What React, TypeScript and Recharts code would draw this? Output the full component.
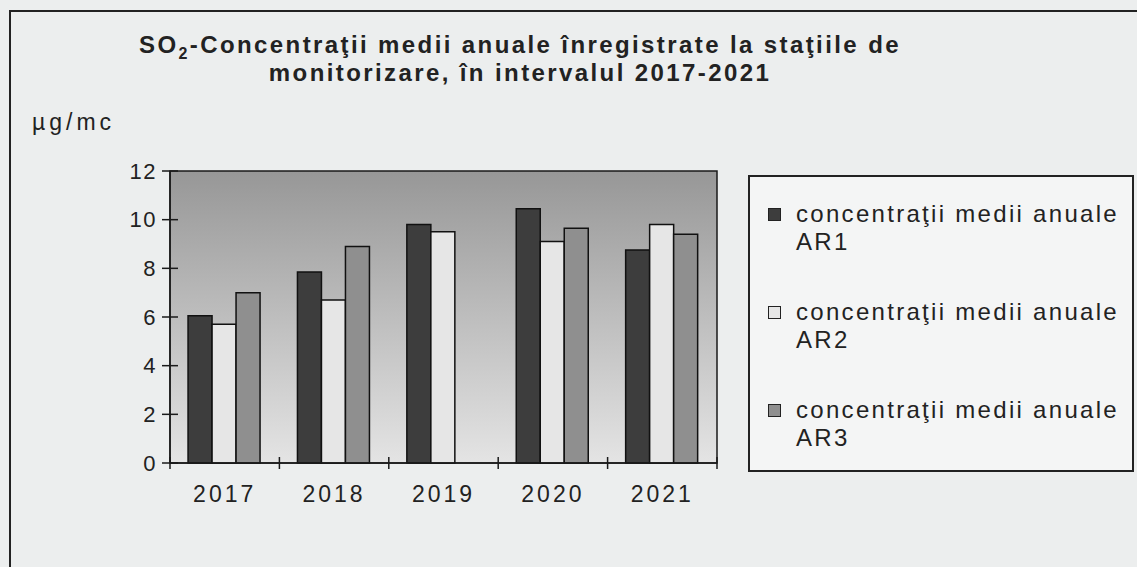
import React from 'react';
import { BarChart, Bar, XAxis, YAxis, CartesianGrid, ReferenceArea, Legend } from 'recharts';

const years = ['2017', '2018', '2019', '2020', '2021'];
const ar1 = [6.05, 7.85, 9.8, 10.45, 8.75];
const ar2 = [5.7, 6.7, 9.5, 9.1, 9.8];
const ar3: (number | null)[] = [7.0, 8.9, null, 9.65, 9.4];
const yTicks = [0, 2, 4, 6, 8, 10, 12];
const seriesNames = ['concentraţii medii anuale AR1', 'concentraţii medii anuale AR2', 'concentraţii medii anuale AR3'];
const seriesKeys = ['ar1', 'ar2', 'ar3'];
const seriesColors = ['#3d3d3d', '#e6e6e6', '#8f8f8f'];
const titleLine1 = ['SO', '2', '-Concentraţii medii anuale înregistrate la staţiile de'];
const titleLine2 = 'monitorizare, în intervalul 2017-2021';
const unitLabel = 'µg/mc';

const data = years.map((y, i) => ({ year: y, ar1: ar1[i], ar2: ar2[i], ar3: ar3[i] }));

const W = 1137;
const H = 567;
const M = { top: 171, left: 108, right: 420, bottom: 74 };
const Y_AXIS_W = 62;
const X_AXIS_H = 30;
const PLOT_W = W - M.left - Y_AXIS_W - M.right;
const HALF_BAND = PLOT_W / years.length / 2;
const FONT = '"Liberation Sans", Arial, sans-serif';

const YTick = (props: any) => {
  const { x, y, payload } = props;
  return (
    <g>
      <line x1={x - 8} x2={x + 8} y1={y} y2={y} stroke="#1a1a1a" strokeWidth={1.5} />
      <text x={x - 13} y={y} textAnchor="end" dominantBaseline="central" fontFamily={FONT} fontSize={22} letterSpacing={1.5} fill="#222">
        {payload.value}
      </text>
    </g>
  );
};

const XTick = (props: any) => {
  const { x, y, payload, index } = props;
  const last = index === years.length - 1;
  return (
    <g>
      <line x1={x - HALF_BAND} x2={x - HALF_BAND} y1={y - 6} y2={y + 6} stroke="#1a1a1a" strokeWidth={1.5} />
      {last && <line x1={x + HALF_BAND} x2={x + HALF_BAND} y1={y - 6} y2={y + 6} stroke="#1a1a1a" strokeWidth={1.5} />}
      <text x={x} y={y + 31} textAnchor="middle" dominantBaseline="central" fontFamily={FONT} fontSize={23} letterSpacing={3} fill="#222">
        {payload.value}
      </text>
    </g>
  );
};

const LegendContent = () => (
  <div
    style={{
      boxSizing: 'border-box',
      width: '100%',
      height: '100%',
      border: '2px solid #222',
      background: '#f4f5f5',
      paddingTop: 23,
      paddingLeft: 18,
      fontFamily: FONT,
      fontSize: 24,
      letterSpacing: 2.3,
      color: '#222',
    }}
  >
    {seriesNames.map((name, i) => {
      const words = name.split(' ');
      const l2 = words.pop();
      return (
        <div key={name} style={{ display: 'flex', alignItems: 'flex-start', height: 56, marginBottom: 42 }}>
          <div style={{ width: 11, height: 11, border: '1px solid #222', background: seriesColors[i], marginTop: 8, marginRight: 15, flex: 'none' }} />
          <div style={{ lineHeight: '28px', whiteSpace: 'nowrap' }}>
            <div>{words.join(' ')}</div>
            <div>{l2}</div>
          </div>
        </div>
      );
    })}
  </div>
);

export default function App() {
  return (
    <div style={{ position: 'absolute', left: 0, top: 0, width: W, height: H, overflow: 'hidden', background: '#eceeee' }}>
      <div style={{ position: 'absolute', left: 9, top: 10, width: W + 20, height: H + 20, border: '2px solid #222', boxSizing: 'border-box' }} />
      <div
        style={{
          position: 'absolute',
          left: 70,
          top: 31,
          width: 900,
          textAlign: 'center',
          fontFamily: FONT,
          fontWeight: 'bold',
          fontSize: 24,
          lineHeight: '28px',
          letterSpacing: 2.4,
          color: '#222',
        }}
      >
        <div>
          {titleLine1[0]}
          <sub style={{ fontSize: 16, lineHeight: 0 }}>{titleLine1[1]}</sub>
          {titleLine1[2]}
        </div>
        <div>{titleLine2}</div>
      </div>
      <div style={{ position: 'absolute', left: 32, top: 109, fontFamily: FONT, fontSize: 23, letterSpacing: 4, color: '#222' }}>{unitLabel}</div>
      <div style={{ position: 'absolute', left: 0, top: 0 }}>
        <BarChart width={W} height={H} data={data} margin={M} barCategoryGap="16.5%" barGap={0}>
          <defs>
            <linearGradient id="plotBg" x1="0" y1="0" x2="0" y2="1">
              <stop offset="0%" stopColor="#979797" />
              <stop offset="100%" stopColor="#e4e4e4" />
            </linearGradient>
          </defs>
          <CartesianGrid horizontal={false} vertical={false} fill="url(#plotBg)" fillOpacity={1} />
          <XAxis
            dataKey="year"
            height={X_AXIS_H}
            tickSize={0}
            tickMargin={0}
            tickLine={false}
            axisLine={{ stroke: '#1a1a1a', strokeWidth: 1.5 }}
            tick={<XTick />}
            interval={0}
          />
          <YAxis
            domain={[0, 12]}
            ticks={yTicks}
            width={Y_AXIS_W}
            tickSize={0}
            tickMargin={0}
            tickLine={false}
            axisLine={{ stroke: '#1a1a1a', strokeWidth: 1.5 }}
            tick={<YTick />}
            interval={0}
          />
          {seriesKeys.map((k, i) => (
            <Bar key={k} dataKey={k} name={seriesNames[i]} fill={seriesColors[i]} stroke="#111" strokeWidth={1.5} isAnimationActive={false} />
          ))}
          <ReferenceArea y1={0} y2={12} fill="none" stroke="#1a1a1a" strokeWidth={1.5} ifOverflow="visible" />
          <Legend
            layout="horizontal"
            align="center"
            verticalAlign="middle"
            content={<LegendContent />}
            wrapperStyle={{ left: 748, top: 175, width: 386, height: 297 }}
          />
        </BarChart>
      </div>
    </div>
  );
}
